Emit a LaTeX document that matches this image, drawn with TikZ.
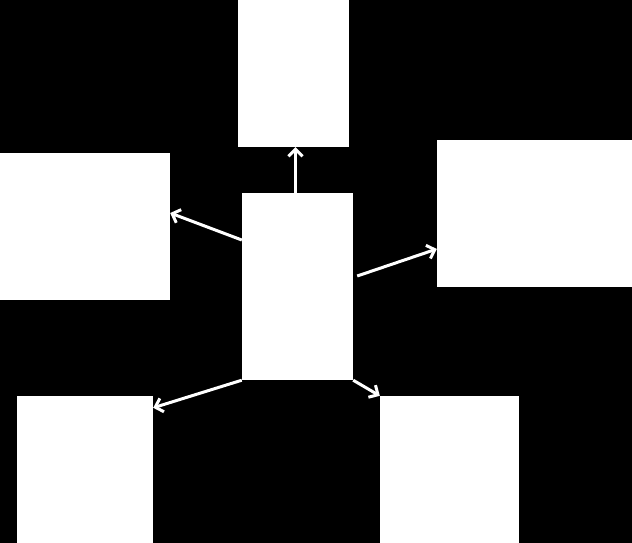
\documentclass[tikz,border=0pt]{standalone}
\usepackage{tikz}
\usetikzlibrary{arrows.meta}

\begin{document}
\begin{tikzpicture}[
    x=1pt, y=-1pt,
    box/.style={rectangle, fill=white, inner sep=0pt, minimum height=147pt},
    arrow/.style={-{Straight Barb[length=7pt,width=14pt]}, draw=white, line width=3pt}
]
    \fill[black] (0,0) rectangle (632,543);

    \node[box, minimum width=111pt, minimum height=187pt] (hub) at (297.5,286.5) {};

    \node[box, minimum width=111pt] (topbox) at (293.5,73.5) {};
    \node[box, minimum width=170pt] (leftbox) at (85,226.5) {};
    \node[box, minimum width=195pt] (rightbox) at (534.5,213.5) {};
    \node[box, minimum width=136pt] (lowleft) at (85,469.5) {};
    \node[box, minimum width=139pt] (lowright) at (449.5,469.5) {};

    \draw[arrow] ([xshift=-2pt]hub.north) -- ([xshift=-2pt]hub.north |- topbox.south);
    \draw[arrow] ([yshift=46.5pt]hub.west) -- ([yshift=13.5pt]leftbox.east);
    \draw[arrow] ([xshift=4pt,yshift=10.5pt]hub.east) -- ([yshift=-35.5pt]rightbox.west);
    \draw[arrow] (hub.south west) -- ([yshift=-12pt]lowleft.north east);
    \draw[arrow] (hub.south east) -- (lowright.north west);
\end{tikzpicture}
\end{document}
